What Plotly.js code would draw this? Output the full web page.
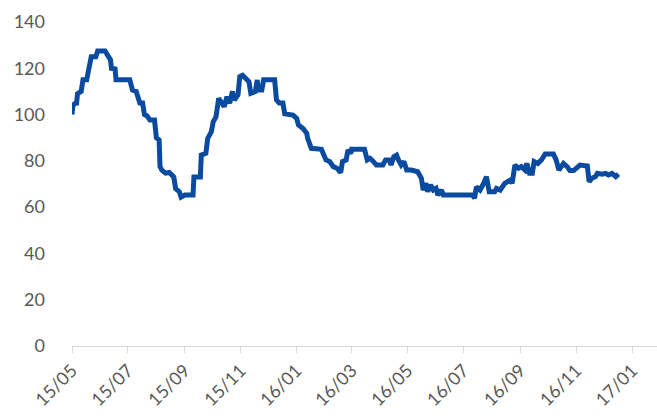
<!DOCTYPE html>
<html>
<head>
<meta charset="utf-8">
<script src="https://cdn.plot.ly/plotly-3.0.1.min.js"></script>
<style>
html,body{margin:0;padding:0;background:#fff;}
#chart{width:657px;height:419px;}
</style>
</head>
<body>
<div id="chart"></div>
<script>
const dates = [
"2015-05-01","2015-05-02","2015-05-05","2015-05-06","2015-05-07","2015-05-11","2015-05-13","2015-05-17","2015-05-19","2015-05-22",
"2015-05-27","2015-05-29","2015-06-06","2015-06-09","2015-06-12","2015-06-13","2015-06-17","2015-06-18","2015-07-03","2015-07-06",
"2015-07-10","2015-07-14","2015-07-17","2015-07-19","2015-07-22","2015-07-25","2015-07-30","2015-08-01","2015-08-04","2015-08-05",
"2015-08-07","2015-08-11","2015-08-15","2015-08-20","2015-08-22","2015-08-26","2015-08-28","2015-09-01","2015-09-10","2015-09-11",
"2015-09-18","2015-09-19","2015-09-24","2015-09-26","2015-09-30","2015-10-02","2015-10-05","2015-10-08","2015-10-11","2015-10-14",
"2015-10-17","2015-10-20","2015-10-23","2015-10-25","2015-10-29","2015-10-31","2015-11-03","2015-11-07","2015-11-10","2015-11-12",
"2015-11-17","2015-11-19","2015-11-20","2015-11-24","2015-11-26","2015-12-08","2015-12-10","2015-12-13","2015-12-17","2015-12-19",
"2015-12-28","2016-01-01","2016-01-03","2016-01-08","2016-01-12","2016-01-13","2016-01-17","2016-01-28","2016-02-02","2016-02-06",
"2016-02-10","2016-02-14","2016-02-18","2016-02-20","2016-02-24","2016-02-26","2016-02-29","2016-03-01","2016-03-15","2016-03-18",
"2016-03-21","2016-03-23","2016-03-28","2016-04-04","2016-04-07","2016-04-11","2016-04-13","2016-04-16","2016-04-19","2016-04-21",
"2016-04-24","2016-04-27","2016-04-30","2016-05-05","2016-05-09","2016-05-12","2016-05-16","2016-05-18","2016-05-21","2016-05-23",
"2016-05-26","2016-05-29","2016-06-01","2016-06-03","2016-06-07","2016-06-09","2016-07-11","2016-07-13","2016-07-15","2016-07-19",
"2016-07-23","2016-07-26","2016-07-29","2016-08-04","2016-08-06","2016-08-10","2016-08-15","2016-08-21","2016-08-23","2016-08-26",
"2016-08-30","2016-09-02","2016-09-06","2016-09-08","2016-09-11","2016-09-14","2016-09-16","2016-09-20","2016-09-24","2016-09-28",
"2016-10-07","2016-10-10","2016-10-13","2016-10-16","2016-10-18","2016-10-22","2016-10-25","2016-10-29","2016-11-02","2016-11-05",
"2016-11-13","2016-11-14","2016-11-15","2016-11-18","2016-11-22","2016-11-24","2016-11-29","2016-12-03","2016-12-06","2016-12-10",
"2016-12-14","2016-12-17"
];
const values = [
100,104,105,105,109,110,115,115,119,125,
125,127.5,127.5,125.8,123.6,120,119.7,115,115,110.6,
110,105,105,100,99.4,97.7,97.7,90,89,77.5,
76,74.7,75,73,68,66.7,64.3,65.2,65.2,73,
73,82.5,83.3,89.7,92.6,96.9,99,107,104.9,103.4,
107.7,104.9,110,106.3,108.5,116.4,117,115,114.2,109.2,
110,115,110.6,110.6,115,115,106.3,105,105,100.3,
99.8,98.4,95.5,94,91.9,89.7,85.4,85,80.4,79.7,
77.5,76.8,74.9,79.7,80.4,84.7,83.2,85,85,80.4,
81.1,80.4,78.2,78.2,80.4,80.4,78.2,81.8,82.5,80.4,
78.2,79.7,76,76,75.3,75.3,72.5,67.4,70.3,66.7,
69.6,67.4,68.1,65.2,67.4,65.2,65.2,63.8,68.8,67.4,
70.3,73.2,66.7,66.7,68.1,67.4,70.3,71.7,70.3,78.2,
76.8,77.5,76,78.9,74.6,74.6,79.7,78.9,80.4,83,
83,80.4,76,78.2,78.9,77.5,75.8,75.8,77.5,78.2,
77.8,74.6,71,72.5,73.2,74.6,74.2,74.6,73.9,74.6,
73.2,74.3
];
const yTicks = [0,20,40,60,80,100,120,140];
const xRange = ["2015-05-01","2017-01-28"];

const trace = {
  x: dates, y: values, type: "scatter", mode: "lines",
  line: {color: "#0A4A9F", width: 5},
  hoverinfo: "skip"
};
const layout = {
  width: 657, height: 419,
  margin: {l: 72, r: 0, t: 22, b: 73},
  paper_bgcolor: "#ffffff", plot_bgcolor: "#ffffff",
  showlegend: false,
  font: {family: "Lato, 'Open Sans', sans-serif", size: 18, color: "#595959"},
  xaxis: {
    type: "date", range: xRange,
    tick0: "2015-05-01", dtick: "M2", tickformat: "%y/%m",
    tickangle: -45, ticks: "outside", ticklen: 6, tickcolor: "#D9D9D9", tickwidth: 1,
    showline: true, linecolor: "#D9D9D9", linewidth: 1,
    showgrid: false, zeroline: false,
    tickfont: {family: "Lato, 'Open Sans', sans-serif", size: 18, color: "#595959"}
  },
  yaxis: {
    range: [0, 140], tickvals: yTicks, ticktext: yTicks.map(String),
    showgrid: false, zeroline: false, showline: false, ticks: "",
    ticklabelstandoff: 26,
    tickfont: {family: "Lato, 'Open Sans', sans-serif", size: 18, color: "#595959"}
  }
};
Plotly.newPlot("chart", [trace], layout, {displayModeBar: false, staticPlot: true});
</script>
</body>
</html>
